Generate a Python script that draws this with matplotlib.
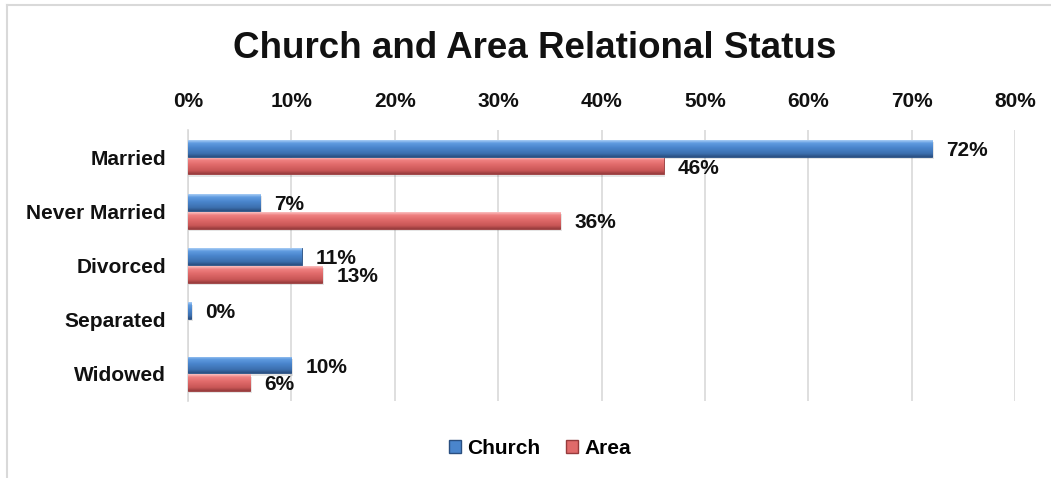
import numpy as np
import matplotlib
matplotlib.use("Agg")
import matplotlib.pyplot as plt
from matplotlib.patches import Patch
from matplotlib.lines import Line2D
from matplotlib.colors import to_rgb

plt.rcParams['font.family'] = ['Liberation Sans', 'DejaVu Sans']

categories = ["Married", "Never Married", "Divorced", "Separated", "Widowed"]
church = [72, 7, 11, 0.3, 10]
area = [46, 36, 13, 0, 6]
ticks = [0, 10, 20, 30, 40, 50, 60, 70, 80]
tick_labels = ["0%", "10%", "20%", "30%", "40%", "50%", "60%", "70%", "80%"]
series_names = ["Church", "Area"]

W, H = 1051, 478
fig = plt.figure(figsize=(W / 100, H / 100), dpi=100)
ax = fig.add_axes([188 / W, 1 - 401 / H, (1015 - 188) / W, (401 - 130) / H])

# shading stops (top -> bottom) for the rounded bar look
blue_stops = ["#a9cdf5", "#5f9be0", "#4a85cc", "#3c6fae", "#2a4f80"]
red_stops = ["#fbc0c0", "#ef8080", "#e06a6a", "#c85656", "#963b3c"]


def gradient(stops, n=64):
    cols = np.array([to_rgb(c) for c in stops])
    pos = np.array([0.0, 0.18, 0.45, 0.8, 1.0])
    t = np.linspace(0, 1, n)
    out = np.stack([np.interp(t, pos, cols[:, k]) for k in range(3)], axis=-1)
    return out[:, None, :]


y = np.arange(len(categories))
bh = 0.31
off = 0.165


def draw(values, yy, stops, edge):
    widths = [0.6 if v > 0 else 0 for v in values]
    bars = ax.barh(yy, values, height=bh, color=stops[2], edgecolor=edge,
                   linewidth=widths, zorder=3)
    img = gradient(stops)
    for b in bars:
        x0, y0 = b.get_x(), b.get_y()
        w, h = b.get_width(), b.get_height()
        if w <= 0:
            continue
        # soft drop shadow
        ax.add_patch(plt.Rectangle((x0, y0 + 0.04), w + 0.15, h, color="#000000",
                                   alpha=0.10, zorder=2, linewidth=0))
        im = ax.imshow(img, extent=(x0, x0 + w, y0 + h, y0), aspect="auto",
                       origin="upper", zorder=3.5, interpolation="bilinear")
        im.set_clip_path(b)
    return bars


draw(church, y - off, blue_stops, "#2a4f80")
draw(area, y + off, red_stops, "#963b3c")

for vals, yy in ((church, y - off), (area, y + off)):
    for v, yc in zip(vals, yy):
        if v == 0:
            continue
        ax.annotate(f"{v:.0f}%", xy=(v, yc), xytext=(10, -1.5), textcoords="offset points",
                    ha="left", va="center", fontsize=15, fontweight="bold", color="#111111")

ax.set_xlim(0, 80)
ax.set_ylim(len(categories) - 0.5, -0.5)
ax.set_xticks(ticks)
ax.set_xticklabels(tick_labels)
ax.set_yticks(y)
ax.set_yticklabels(categories)
ax.xaxis.tick_top()
ax.tick_params(axis="x", length=0, pad=14, labelsize=15)
ax.tick_params(axis="y", length=0, pad=16, labelsize=15)
for lab in ax.get_xticklabels() + ax.get_yticklabels():
    lab.set_fontweight("bold")
    lab.set_color("#111111")

ax.grid(axis="x", color="#d9d9d9", linewidth=1.2, zorder=0)
ax.set_axisbelow(True)
for s in ("top", "right", "bottom"):
    ax.spines[s].set_visible(False)
ax.spines["left"].set_color("#d9d9d9")
ax.spines["left"].set_linewidth(1.2)

fig.text(535 / W, 1 - 49 / H, "Church and Area Relational Status", ha="center",
         va="center", fontsize=26.5, fontweight="bold", color="#111111")

handles = [Patch(facecolor="#4a85cc", edgecolor="#2a4f80"),
           Patch(facecolor="#e06a6a", edgecolor="#963b3c")]
leg = fig.legend(handles, series_names, loc="center", bbox_to_anchor=(540 / W, 1 - 448 / H),
                 ncol=2, frameon=False, prop={"weight": "bold", "size": 15},
                 handlelength=0.6, handleheight=0.6, handletextpad=0.3, columnspacing=1.2)

# chart frame (top and left edges)
fig.add_artist(Line2D([7 / W, 1], [1 - 5 / H, 1 - 5 / H], transform=fig.transFigure,
                      color="#d9d9d9", linewidth=1.5))
fig.add_artist(Line2D([7 / W, 7 / W], [0, 1 - 5 / H], transform=fig.transFigure,
                      color="#d9d9d9", linewidth=1.5))

fig.savefig("out.png", dpi=100)
